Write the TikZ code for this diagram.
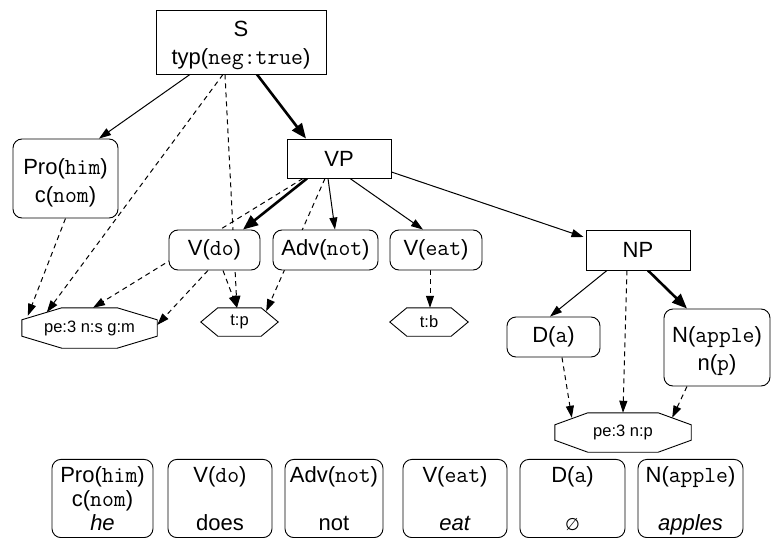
\documentclass[tikz,border=0pt]{standalone}
\usepackage{fontspec}
\setmainfont{Liberation Sans}
\newfontfamily\symfont{DejaVu Sans}
\usetikzlibrary{arrows.meta,calc,backgrounds}

% feature values are set in typewriter
\newcommand\mono[1]{{\ttfamily\fontsize{23}{28}\selectfont #1}}
% extra room above the first line of a multi-line label
\newcommand\toproom[1]{\rule{0pt}{#1pt}}

% outlines for the feature tags
\newcommand\drawocta[3]{%
  \draw[outline] ($(#1.north west)+(#2,0)$) -- ($(#1.north east)+(-#2,0)$)
    -- ($(#1.north east)+(0,#3)$) -- ($(#1.south east)+(0,-#3)$)
    -- ($(#1.south east)+(-#2,0)$) -- ($(#1.south west)+(#2,0)$)
    -- ($(#1.south west)+(0,-#3)$) -- ($(#1.north west)+(0,#3)$) -- cycle;}
\newcommand\drawhexa[2]{%
  \draw[outline] ($(#1.north west)+(#2,0)$) -- ($(#1.north east)+(-#2,0)$)
    -- (#1.east) -- ($(#1.south east)+(-#2,0)$)
    -- ($(#1.south west)+(#2,0)$) -- (#1.west) -- cycle;}

\tikzset{
  sized/.style 2 args={minimum width=#1pt, minimum height=#2pt},
  base/.style={inner sep=0pt, align=center, font=\fontsize{22}{28}\selectfont},
  plainbox/.style={base, draw, line width=0.9pt, fill=white},
  roundbox/.style={plainbox, rounded corners=9pt},
  wordbox/.style={roundbox, font=\fontsize{22}{24}\selectfont},
  tagbox/.style={inner sep=0pt, font=\fontsize{16.5}{20}\selectfont},
  outline/.style={line width=0.9pt},
  link/.style={line width=1pt, -{Triangle[length=12pt,width=8pt]}},
  strong/.style={line width=2.6pt, -{Triangle[length=15pt,width=12pt]}},
  weak/.style={link, dash pattern=on 5pt off 4pt},
}

\begin{document}
\begin{tikzpicture}[x=1pt,y=-1pt]
\useasboundingbox (0,0) rectangle (772,538);

% phrase structure
\node[plainbox, sized={170}{64}] (S) at (241,42) {\toproom{23}S\\typ(\mono{neg:true})};
\node[roundbox, sized={105}{79}] (Pro) at (65.5,178.5) {\toproom{24}Pro(\mono{him})\\c(\mono{nom})};
\node[plainbox, sized={104}{39}] (VP) at (339,158.5) {VP};
\node[roundbox, sized={91}{40}] (Vdo) at (214.5,250) {V(\mono{do})};
\node[roundbox, sized={105}{40}] (Adv) at (325.5,250) {Adv(\mono{not})};
\node[roundbox, sized={92}{40}] (Veat) at (436,250) {V(\mono{eat})};
\node[plainbox, sized={104}{40}] (NP) at (638,250) {NP};
\node[roundbox, sized={93}{40}] (Da) at (553.5,337) {D(\mono{a})};
\node[roundbox, sized={106}{77}] (Napple) at (717,347.5) {\toproom{24}N(\mono{apple})\\n(\mono{p})};

% agreement tags
\node[tagbox, sized={135}{40}] (pes) at (89.5,328) {pe:3 n:s g:m};
\node[tagbox, sized={77}{28}] (tp) at (239.5,322) {t:p};
\node[tagbox, sized={78}{28}] (tb) at (429,322) {t:b};
\node[tagbox, sized={136}{39}] (pen) at (623,432.5) {pe:3 n:p};
\drawocta{pes}{40}{12}
\drawhexa{tp}{17}
\drawhexa{tb}{17}
\drawocta{pen}{33}{12}

% surface words
\node[wordbox, sized={101}{77}] (w1) at (102.5,498.5) {\toproom{23}Pro(\mono{him})\\c(\mono{nom})\\\textit{he}\strut};
\node[wordbox, sized={104}{77}] (w2) at (220,498.5) {\toproom{23}V(\mono{do})\\\mbox{}\\does\strut};
\node[wordbox, sized={98}{77}] (w3) at (334,498.5) {\toproom{23}Adv(\mono{not})\\\mbox{}\\not\strut};
\node[wordbox, sized={104}{77}] (w4) at (455,498.5) {\toproom{23}V(\mono{eat})\\\mbox{}\\\textit{eat}\strut};
\node[wordbox, sized={105}{77}] (w5) at (572.5,498.5) {\toproom{23}D(\mono{a})\\\mbox{}\\{\symfont\fontsize{17}{24}\selectfont ∅}\strut};
\node[wordbox, sized={105}{77}] (w6) at (690.5,498.5) {\toproom{23}N(\mono{apple})\\\mbox{}\\\textit{apples}\strut};

\begin{scope}[on background layer]
  % dominance
  \draw[link]   ($(S.south)+(-51,0)$) -- ($(Pro.north)+(33.5,0)$);
  \draw[strong] ($(S.south)+(16,0)$) -- ($(VP.north)+(-33,0)$);
  \draw[strong] ($(VP.south)+(-32,0)$) -- ($(Vdo.north)+(28.5,0)$);
  \draw[link]   ($(VP.south)+(-11,0)$) -- ($(Adv.north)+(9.5,0)$);
  \draw[link]   ($(VP.south)+(11,0)$) -- ($(Veat.north)+(-13,0)$);
  \draw[link]   ($(VP.east)+(0,13.5)$) -- ($(NP.west)+(-2,-13)$);
  \draw[link]   ($(NP.south)+(-31,0)$) -- ($(Da.north)+(-3.5,0)$);
  \draw[strong] ($(NP.south)+(10,0)$) -- ($(Napple.north)+(-30,0)$);
  % feature sharing
  \draw[weak] ($(S.south)+(-18,0)$) -- ($(pes.north west)+(25,4.5)$);
  \draw[weak] ($(S.south)+(-16,0)$) -- ($(tp.north)+(-2.5,0)$);
  \draw[weak] (Pro.south) -- ($(pes.north west)+(6,8)$);
  \draw[weak] ($(VP.south)+(-36,0)$) -- ($(pes.north)+(3.5,0)$);
  \draw[weak] ($(VP.south)+(-14,0)$) -- ($(tp.north east)+(-12,3.5)$);
  \draw[weak] ($(Vdo.south)+(-6.5,0)$) -- ($(pes.east)+(0,-3)$);
  \draw[weak] ($(Vdo.south)+(8.5,0)$) -- ($(tp.north)+(-2.5,0)$);
  \draw[weak] ($(Veat.south)+(-6,0)$) -- ($(tb.north)+(1,0)$);
  \draw[weak] ($(NP.south)+(-11,0)$) -- (pen.north);
  \draw[weak] ($(Da.south)+(8.5,0)$) -- ($(pen.north west)+(17,5)$);
  \draw[weak] ($(Napple.south)+(-30,0)$) -- ($(pen.north east)+(-19,5)$);
\end{scope}
\end{tikzpicture}
\end{document}
